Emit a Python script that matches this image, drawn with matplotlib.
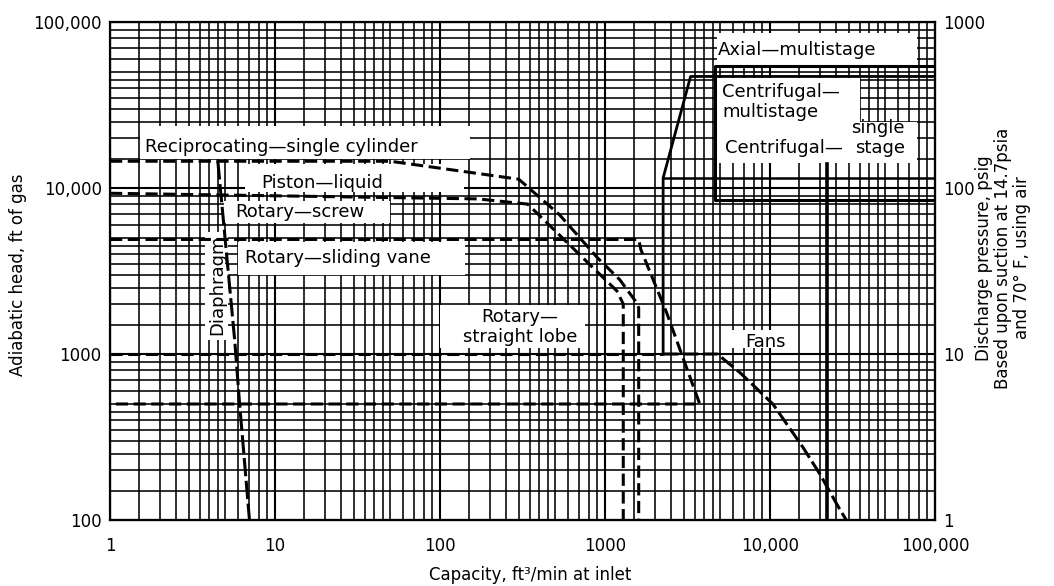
import matplotlib
matplotlib.use('Agg')
import matplotlib.pyplot as plt
from matplotlib.patches import Rectangle
from matplotlib.ticker import FixedLocator, NullFormatter

# --- axis ticks ---
x_ticks = [1, 10, 100, 1000, 10000, 100000]
x_tick_labels = ['1', '10', '100', '1000', '10,000', '100,000']
y_ticks = [100, 1000, 10000, 100000]
y_tick_labels = ['100', '1000', '10,000', '100,000']
psig_ticks = [1, 10, 100, 1000]
psig_tick_labels = ['1', '10', '100', '1000']
grid_steps = [1.5, 2, 2.5, 3, 3.5, 4, 4.5, 5, 6, 7, 8, 9]

# --- coverage boundaries (capacity ft3/min, head ft) ---
recip_x = [1, 50, 300, 530, 900, 1230, 1520, 1600, 1600]
recip_y = [14500, 14500, 11300, 6900, 3800, 2800, 2100, 1900, 100]
piston_x = [1, 170, 340, 1180, 1290, 1290]
piston_y = [9300, 8600, 8000, 2400, 2000, 100]
vane_x = [1, 1600, 1650, 2350, 3750, 1]
vane_y = [4900, 4900, 4250, 1800, 500, 500]
lobe_x = [1, 2250]
lobe_y = [1000, 1000]
diaphragm_x = [4.5, 5.7, 6.1, 7.0]
diaphragm_y = [14500, 1200, 500, 100]
multi_x = [2250, 2250, 3300, 100000]
multi_y = [1000, 11500, 47000, 47000]
single_x = [2250, 100000]
single_y = [11500, 11500]
axial_x = [100000, 4650, 4650, 100000]
axial_y = [54000, 54000, 8500, 8500]
limit_x = [22000, 22000]
limit_y = [100, 14000]
fans_x = [2250, 4800, 6600, 10400, 15800, 20000, 26600, 29000]
fans_y = [1000, 1000, 770, 500, 275, 190, 115, 100]

# white label areas (x0, y0, x1, y1) in data units
blank_areas = [
    (1.52, 15000, 152, 23500),
    (6.6, 9500, 140, 14000),
    (4.9, 6150, 50, 8300),
    (6.0, 3000, 142, 4700),
    (3.76, 1215, 5.2, 5400),
    (100, 1086, 757, 1970),
    (5700, 1086, 14600, 1400),
    (4800, 55000, 78000, 86000),
    (4800, 25000, 35000, 46000),
    (4800, 14100, 78000, 25000),
]

labels = [
    ('Reciprocating—single cylinder', 1.63, 17700, 'left', 0),
    ('Piston—liquid', 8.3, 10700, 'left', 0),
    ('Rotary—screw', 5.7, 7160, 'left', 0),
    ('Rotary—sliding vane', 6.6, 3790, 'left', 0),
    ('Diaphragm', 4.45, 2600, 'center', 90),
    ('Rotary—\nstraight lobe', 305, 1455, 'center', 0),
    ('Fans', 7050, 1180, 'left', 0),
    ('Axial—multistage', 4840, 67800, 'left', 0),
    ('Centrifugal—\nmultistage', 5120, 33000, 'left', 0),
    ('single\nstage', 65800, 20000, 'right', 0),
    ('Centrifugal—', 5340, 17400, 'left', 0),
]

fig = plt.figure(figsize=(10.54, 5.86), dpi=100)
ax = fig.add_axes([0.1044, 0.1126, 0.7827, 0.8498])
ax.set_xscale('log')
ax.set_yscale('log')
ax.set_xlim(1, 100000)
ax.set_ylim(100, 100000)

ax.set_xticks(x_ticks)
ax.set_xticklabels(x_tick_labels)
ax.set_yticks(y_ticks)
ax.set_yticklabels(y_tick_labels)
ax.xaxis.set_minor_locator(FixedLocator([s * 10 ** k for k in range(5) for s in grid_steps]))
ax.yaxis.set_minor_locator(FixedLocator([s * 10 ** k for k in range(2, 5) for s in grid_steps]))
ax.xaxis.set_minor_formatter(NullFormatter())
ax.yaxis.set_minor_formatter(NullFormatter())
ax.tick_params(which='both', length=0, labelsize=12)
ax.tick_params(axis='x', pad=12)
ax.tick_params(axis='y', pad=6)
ax.set_axisbelow(True)
ax.grid(which='major', color='black', lw=1.5)
ax.grid(which='minor', color='black', lw=1.15)
for sp in ax.spines.values():
    sp.set_linewidth(1.6)

for x0, y0, x1, y1 in blank_areas:
    ax.add_patch(Rectangle((x0, y0), x1 - x0, y1 - y0, facecolor='white',
                           edgecolor='none', zorder=1))

dash = dict(color='black', lw=2.2, dashes=(4, 1.8), zorder=3)
ax.plot(recip_x, recip_y, **dash)
ax.plot(piston_x, piston_y, **dash)
ax.plot(vane_x, vane_y, **dash)
ax.plot(lobe_x, lobe_y, **dash)
ax.plot(diaphragm_x, diaphragm_y, color='black', lw=2.2, dashes=(6, 1.5), zorder=3)
ax.plot(fans_x, fans_y, color='black', lw=2.2, dashes=(5, 1.5), zorder=3)
ax.plot(multi_x, multi_y, color='black', lw=2.0, zorder=3)
ax.plot(single_x, single_y, color='black', lw=1.8, zorder=3)
ax.plot(axial_x, axial_y, color='black', lw=2.2, zorder=3)
ax.plot(limit_x, limit_y, color='black', lw=2.6, zorder=3)

for txt, x, y, ha, rot in labels:
    ax.text(x, y, txt, ha=ha, va='center', rotation=rot, fontsize=13,
            linespacing=1.1, multialignment=ha, zorder=4)

ax2 = ax.twinx()
ax2.set_yscale('log')
ax2.set_ylim(1, 1000)
ax2.set_yticks(psig_ticks)
ax2.set_yticklabels(psig_tick_labels)
ax2.yaxis.set_minor_locator(FixedLocator([]))
ax2.tick_params(which='both', length=0, labelsize=12, pad=6)

fig.text(18 / 1054, 1 - 275 / 586, 'Adiabatic head, ft of gas', rotation=90,
         ha='center', va='center', fontsize=12)
fig.text(530 / 1054, 1 - 575 / 586, 'Capacity, ft³/min at inlet',
         ha='center', va='center', fontsize=12)
fig.text(1003 / 1054, 1 - 258 / 586,
         'Discharge pressure, psig\nBased upon suction at 14.7psia\nand 70° F, using air',
         rotation=90, ha='center', va='center', fontsize=12, linespacing=1.1,
         multialignment='center')

fig.savefig('out.png', dpi=100)
